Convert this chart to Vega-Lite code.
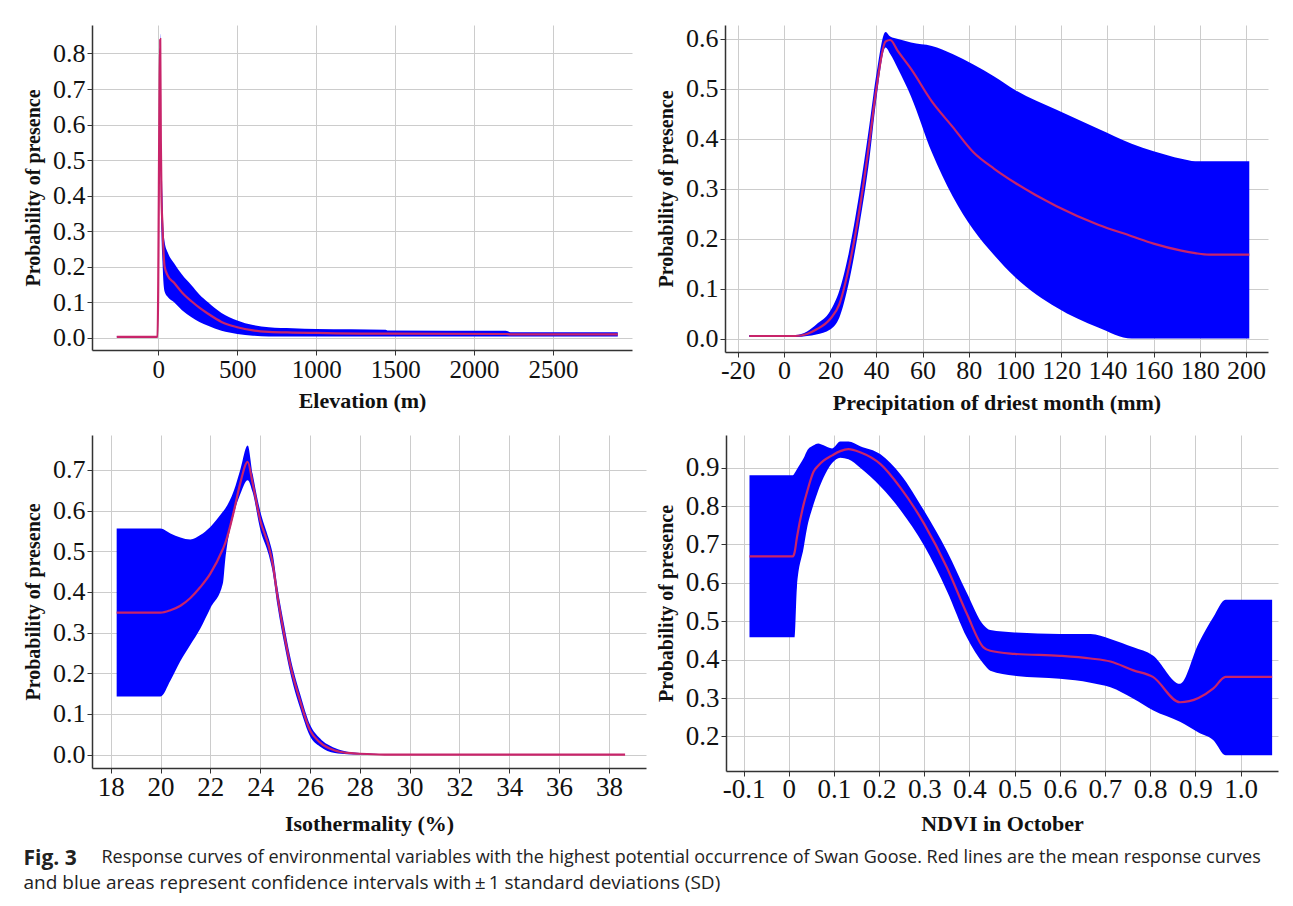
{
  "$schema": "https://vega.github.io/schema/vega-lite/v6.json",
  "padding": {"left": 23, "top": 25, "right": 10, "bottom": 5},
  "background": "white",
  "config": {
    "font": "Liberation Serif",
    "view": {"stroke": null},
    "axis": {
      "grid": true, "gridColor": "#cccccc", "gridWidth": 1,
      "domainColor": "#333333", "domainWidth": 1.5,
      "tickColor": "#333333", "tickSize": 5, "tickWidth": 1,
      "labelFont": "Liberation Serif", "labelColor": "#111111",
      "titleFont": "Liberation Serif", "titleFontWeight": "bold", "titleColor": "#111111",
      "labelOverlap": false, "labelFlush": false, "labelBound": false
    },
    "axisY": {"titleFontSize": 20, "labelPadding": 2, "titlePadding": 9},
    "axisX": {"titleFontSize": 22}
  },
  "title": {
    "text": "Fig. 3",
    "subtitle": "and blue areas represent confidence intervals with\u2009\u00b1\u20091 standard deviations (SD)",
    "orient": "bottom", "anchor": "start",
    "font": "Open Sans", "fontSize": 21, "fontWeight": "bold", "color": "#222222",
    "subtitleFont": "Open Sans", "subtitleFontSize": 19, "subtitleColor": "#222222",
    "subtitlePadding": 5, "offset": 0, "dy": -19
  },
  "spacing": 22,
  "vconcat": [
    {
      "hconcat": [
        {
          "width": 540, "height": 325,
          "data": {"values": [
            {"x": -263, "lo": 0.002, "m": 0.003, "hi": 0.005},
            {"x": -5, "lo": 0.002, "m": 0.003, "hi": 0.005},
            {"x": 12, "lo": 0.82, "m": 0.84, "hi": 0.856},
            {"x": 16, "lo": 0.45, "m": 0.55, "hi": 0.6},
            {"x": 20, "lo": 0.3, "m": 0.4, "hi": 0.52},
            {"x": 26, "lo": 0.22, "m": 0.32, "hi": 0.4},
            {"x": 32, "lo": 0.16, "m": 0.25, "hi": 0.31},
            {"x": 40, "lo": 0.13, "m": 0.2, "hi": 0.27},
            {"x": 60, "lo": 0.115, "m": 0.175, "hi": 0.24},
            {"x": 100, "lo": 0.1, "m": 0.155, "hi": 0.21},
            {"x": 150, "lo": 0.078, "m": 0.128, "hi": 0.178},
            {"x": 210, "lo": 0.058, "m": 0.103, "hi": 0.148},
            {"x": 260, "lo": 0.045, "m": 0.085, "hi": 0.122},
            {"x": 315, "lo": 0.034, "m": 0.068, "hi": 0.1},
            {"x": 400, "lo": 0.02, "m": 0.045, "hi": 0.07},
            {"x": 500, "lo": 0.011, "m": 0.03, "hi": 0.049},
            {"x": 600, "lo": 0.006, "m": 0.021, "hi": 0.036},
            {"x": 700, "lo": 0.004, "m": 0.017, "hi": 0.03},
            {"x": 850, "lo": 0.004, "m": 0.015, "hi": 0.027},
            {"x": 1000, "lo": 0.004, "m": 0.014, "hi": 0.025},
            {"x": 1440, "lo": 0.004, "m": 0.012, "hi": 0.023},
            {"x": 1450, "lo": 0.004, "m": 0.012, "hi": 0.021},
            {"x": 2200, "lo": 0.004, "m": 0.011, "hi": 0.02},
            {"x": 2230, "lo": 0.004, "m": 0.01, "hi": 0.016},
            {"x": 2910, "lo": 0.004, "m": 0.01, "hi": 0.016}
          ]},
          "encoding": {
            "x": {"field": "x", "type": "quantitative",
              "scale": {"domain": [-420, 3000], "nice": false, "zero": false},
              "axis": {"title": "Elevation (m)", "values": [0, 500, 1000, 1500, 2000, 2500], "format": "d",
                "labelFontSize": 25, "labelPadding": 2, "titlePadding": 8}}
          },
          "layer": [
            {"mark": {"type": "area", "color": "#0000ff", "interpolate": "monotone"},
             "encoding": {
               "y": {"field": "lo", "type": "quantitative",
                 "scale": {"domain": [-0.034, 0.88], "nice": false, "zero": false},
                 "axis": {"title": "Probability of presence", "values": [0, 0.1, 0.2, 0.3, 0.4, 0.5, 0.6, 0.7, 0.8], "format": ".1f", "labelFontSize": 26}},
               "y2": {"field": "hi"}}},
            {"mark": {"type": "line", "color": "#c8246a", "strokeWidth": 2.2, "interpolate": "monotone"},
             "encoding": {
               "y": {"field": "m", "type": "quantitative",
                 "scale": {"domain": [-0.034, 0.88], "nice": false, "zero": false},
                 "axis": {"title": "Probability of presence", "values": [0, 0.1, 0.2, 0.3, 0.4, 0.5, 0.6, 0.7, 0.8], "format": ".1f", "labelFontSize": 26}}}}
          ]
        },
        {
          "width": 543, "height": 327,
          "data": {"values": [
            {"x": -15, "lo": 0.003, "m": 0.005, "hi": 0.007},
            {"x": 5, "lo": 0.003, "m": 0.005, "hi": 0.007},
            {"x": 10, "lo": 0.005, "m": 0.009, "hi": 0.014},
            {"x": 14, "lo": 0.008, "m": 0.018, "hi": 0.028},
            {"x": 20, "lo": 0.018, "m": 0.039, "hi": 0.055},
            {"x": 24, "lo": 0.042, "m": 0.069, "hi": 0.096},
            {"x": 28, "lo": 0.11, "m": 0.14, "hi": 0.17},
            {"x": 32.6, "lo": 0.225, "m": 0.255, "hi": 0.29},
            {"x": 37, "lo": 0.36, "m": 0.394, "hi": 0.428},
            {"x": 40, "lo": 0.48, "m": 0.5, "hi": 0.529},
            {"x": 44, "lo": 0.583, "m": 0.595, "hi": 0.614},
            {"x": 46, "lo": 0.57, "m": 0.598, "hi": 0.605},
            {"x": 49.4, "lo": 0.54, "m": 0.575, "hi": 0.6},
            {"x": 55, "lo": 0.485, "m": 0.54, "hi": 0.593},
            {"x": 64, "lo": 0.373, "m": 0.475, "hi": 0.586},
            {"x": 73, "lo": 0.285, "m": 0.424, "hi": 0.57},
            {"x": 82, "lo": 0.218, "m": 0.373, "hi": 0.549},
            {"x": 91, "lo": 0.167, "m": 0.34, "hi": 0.525},
            {"x": 100, "lo": 0.123, "m": 0.312, "hi": 0.498},
            {"x": 118, "lo": 0.062, "m": 0.265, "hi": 0.458},
            {"x": 136, "lo": 0.022, "m": 0.228, "hi": 0.42},
            {"x": 150.5, "lo": 0.0, "m": 0.205, "hi": 0.39},
            {"x": 160, "lo": 0.0, "m": 0.19, "hi": 0.375},
            {"x": 172, "lo": 0.0, "m": 0.176, "hi": 0.36},
            {"x": 178, "lo": 0.0, "m": 0.171, "hi": 0.355},
            {"x": 184, "lo": 0.0, "m": 0.168, "hi": 0.355},
            {"x": 201.4, "lo": 0.0, "m": 0.168, "hi": 0.355}
          ]},
          "encoding": {
            "x": {"field": "x", "type": "quantitative",
              "scale": {"domain": [-25.5, 209.5], "nice": false, "zero": false},
              "axis": {"title": "Precipitation of driest month (mm)",
                "values": [-20, 0, 20, 40, 60, 80, 100, 120, 140, 160, 180, 200],
                "labelExpr": "datum.value < 0 ? '-' + (-datum.value) : '' + datum.value",
                "labelFontSize": 26, "labelPadding": 0, "titlePadding": 9}}
          },
          "layer": [
            {"mark": {"type": "area", "color": "#0000ff", "interpolate": "monotone"},
             "encoding": {
               "y": {"field": "lo", "type": "quantitative",
                 "scale": {"domain": [-0.027, 0.628], "nice": false, "zero": false},
                 "axis": {"title": "Probability of presence", "values": [0, 0.1, 0.2, 0.3, 0.4, 0.5, 0.6], "format": ".1f", "labelFontSize": 26}},
               "y2": {"field": "hi"}}},
            {"mark": {"type": "line", "color": "#c8246a", "strokeWidth": 2.2, "interpolate": "monotone"},
             "encoding": {
               "y": {"field": "m", "type": "quantitative",
                 "scale": {"domain": [-0.027, 0.628], "nice": false, "zero": false},
                 "axis": {"title": "Probability of presence", "values": [0, 0.1, 0.2, 0.3, 0.4, 0.5, 0.6], "format": ".1f", "labelFontSize": 26}}}}
          ]
        }
      ],
      "bounds": "flush",
      "spacing": 93
    },
    {
      "title": {
        "text": "Response curves of environmental variables with the highest potential occurrence of Swan Goose. Red lines are the mean response curves",
        "orient": "bottom", "anchor": "start", "dx": 78, "offset": 15,
        "font": "Open Sans", "fontSize": 18, "fontWeight": "normal", "color": "#222222"
      },
      "hconcat": [
        {
          "width": 554, "height": 333,
          "data": {"values": [
            {"x": 18.24, "lo": 0.143, "m": 0.349, "hi": 0.556},
            {"x": 20.0, "lo": 0.143, "m": 0.349, "hi": 0.556},
            {"x": 20.4, "lo": 0.182, "m": 0.355, "hi": 0.544},
            {"x": 20.8, "lo": 0.23, "m": 0.366, "hi": 0.534},
            {"x": 21.2, "lo": 0.27, "m": 0.385, "hi": 0.529},
            {"x": 21.6, "lo": 0.31, "m": 0.412, "hi": 0.54},
            {"x": 22.0, "lo": 0.36, "m": 0.445, "hi": 0.56},
            {"x": 22.5, "lo": 0.42, "m": 0.505, "hi": 0.597},
            {"x": 22.6, "lo": 0.48, "m": 0.52, "hi": 0.605},
            {"x": 22.95, "lo": 0.593, "m": 0.6, "hi": 0.65},
            {"x": 23.2, "lo": 0.64, "m": 0.667, "hi": 0.7},
            {"x": 23.5, "lo": 0.675, "m": 0.72, "hi": 0.76},
            {"x": 23.7, "lo": 0.645, "m": 0.667, "hi": 0.69},
            {"x": 24.0, "lo": 0.555, "m": 0.577, "hi": 0.6},
            {"x": 24.35, "lo": 0.49, "m": 0.511, "hi": 0.53},
            {"x": 24.5, "lo": 0.45, "m": 0.47, "hi": 0.495},
            {"x": 24.7, "lo": 0.365, "m": 0.388, "hi": 0.41},
            {"x": 24.96, "lo": 0.275, "m": 0.297, "hi": 0.32},
            {"x": 25.2, "lo": 0.203, "m": 0.223, "hi": 0.243},
            {"x": 25.6, "lo": 0.115, "m": 0.133, "hi": 0.15},
            {"x": 26.0, "lo": 0.046, "m": 0.06, "hi": 0.074},
            {"x": 26.4, "lo": 0.02, "m": 0.03, "hi": 0.04},
            {"x": 27.0, "lo": 0.004, "m": 0.01, "hi": 0.016},
            {"x": 27.5, "lo": 0.001, "m": 0.004, "hi": 0.007},
            {"x": 28.0, "lo": 0.0, "m": 0.002, "hi": 0.004},
            {"x": 29.0, "lo": 0.0, "m": 0.0, "hi": 0.001},
            {"x": 38.65, "lo": 0.0, "m": 0.0, "hi": 0.001}
          ]},
          "encoding": {
            "x": {"field": "x", "type": "quantitative",
              "scale": {"domain": [17.25, 39.49], "nice": false, "zero": false},
              "axis": {"title": "Isothermality (%)", "values": [18, 20, 22, 24, 26, 28, 30, 32, 34, 36, 38],
                "labelFontSize": 27, "labelPadding": 1, "titlePadding": 13}}
          },
          "layer": [
            {"mark": {"type": "area", "color": "#0000ff", "interpolate": "monotone"},
             "encoding": {
               "y": {"field": "lo", "type": "quantitative",
                 "scale": {"domain": [-0.033, 0.786], "nice": false, "zero": false},
                 "axis": {"title": "Probability of presence", "values": [0, 0.1, 0.2, 0.3, 0.4, 0.5, 0.6, 0.7], "format": ".1f", "labelFontSize": 26}},
               "y2": {"field": "hi"}}},
            {"mark": {"type": "line", "color": "#c8246a", "strokeWidth": 2.2, "interpolate": "monotone"},
             "encoding": {
               "y": {"field": "m", "type": "quantitative",
                 "scale": {"domain": [-0.033, 0.786], "nice": false, "zero": false},
                 "axis": {"title": "Probability of presence", "values": [0, 0.1, 0.2, 0.3, 0.4, 0.5, 0.6, 0.7], "format": ".1f", "labelFontSize": 26}}}}
          ]
        },
        {
          "width": 552, "height": 336,
          "data": {"values": [
            {"x": -0.087, "lo": 0.458, "m": 0.669, "hi": 0.88},
            {"x": 0.009, "lo": 0.458, "m": 0.669, "hi": 0.88},
            {"x": 0.013, "lo": 0.458, "m": 0.68, "hi": 0.886},
            {"x": 0.018, "lo": 0.588, "m": 0.718, "hi": 0.896},
            {"x": 0.033, "lo": 0.692, "m": 0.805, "hi": 0.925},
            {"x": 0.04, "lo": 0.74, "m": 0.835, "hi": 0.943},
            {"x": 0.055, "lo": 0.805, "m": 0.89, "hi": 0.958},
            {"x": 0.065, "lo": 0.84, "m": 0.905, "hi": 0.963},
            {"x": 0.077, "lo": 0.874, "m": 0.918, "hi": 0.958},
            {"x": 0.096, "lo": 0.912, "m": 0.932, "hi": 0.95},
            {"x": 0.114, "lo": 0.926, "m": 0.943, "hi": 0.968},
            {"x": 0.132, "lo": 0.922, "m": 0.948, "hi": 0.968},
            {"x": 0.158, "lo": 0.9, "m": 0.94, "hi": 0.956},
            {"x": 0.203, "lo": 0.851, "m": 0.909, "hi": 0.935},
            {"x": 0.247, "lo": 0.79, "m": 0.848, "hi": 0.883},
            {"x": 0.3, "lo": 0.696, "m": 0.753, "hi": 0.787},
            {"x": 0.35, "lo": 0.579, "m": 0.64, "hi": 0.683},
            {"x": 0.394, "lo": 0.458, "m": 0.52, "hi": 0.574},
            {"x": 0.431, "lo": 0.389, "m": 0.432, "hi": 0.49},
            {"x": 0.446, "lo": 0.371, "m": 0.423, "hi": 0.477},
            {"x": 0.5, "lo": 0.358, "m": 0.415, "hi": 0.471},
            {"x": 0.6, "lo": 0.35, "m": 0.41, "hi": 0.467},
            {"x": 0.668, "lo": 0.34, "m": 0.403, "hi": 0.467},
            {"x": 0.712, "lo": 0.328, "m": 0.395, "hi": 0.454},
            {"x": 0.763, "lo": 0.298, "m": 0.372, "hi": 0.432},
            {"x": 0.806, "lo": 0.268, "m": 0.355, "hi": 0.411},
            {"x": 0.866, "lo": 0.238, "m": 0.289, "hi": 0.337},
            {"x": 0.907, "lo": 0.21, "m": 0.3, "hi": 0.442},
            {"x": 0.94, "lo": 0.19, "m": 0.325, "hi": 0.511},
            {"x": 0.967, "lo": 0.151, "m": 0.355, "hi": 0.556},
            {"x": 1.07, "lo": 0.151, "m": 0.355, "hi": 0.556}
          ]},
          "encoding": {
            "x": {"field": "x", "type": "quantitative",
              "scale": {"domain": [-0.139, 1.083], "nice": false, "zero": false},
              "axis": {"title": "NDVI in October", "values": [-0.1, 0, 0.1, 0.2, 0.3, 0.4, 0.5, 0.6, 0.7, 0.8, 0.9, 1.0],
                "labelExpr": "datum.value == 0 ? '0' : (datum.value < 0 ? '-' + format(-datum.value, '.1f') : format(datum.value, '.1f'))",
                "labelFontSize": 27, "labelPadding": 0, "titlePadding": 11}}
          },
          "layer": [
            {"mark": {"type": "area", "color": "#0000ff", "interpolate": "monotone"},
             "encoding": {
               "y": {"field": "lo", "type": "quantitative",
                 "scale": {"domain": [0.11, 0.985], "nice": false, "zero": false},
                 "axis": {"title": "Probability of presence", "values": [0.2, 0.3, 0.4, 0.5, 0.6, 0.7, 0.8, 0.9], "format": ".1f", "labelFontSize": 27}},
               "y2": {"field": "hi"}}},
            {"mark": {"type": "line", "color": "#c8246a", "strokeWidth": 2.2, "interpolate": "monotone"},
             "encoding": {
               "y": {"field": "m", "type": "quantitative",
                 "scale": {"domain": [0.11, 0.985], "nice": false, "zero": false},
                 "axis": {"title": "Probability of presence", "values": [0.2, 0.3, 0.4, 0.5, 0.6, 0.7, 0.8, 0.9], "format": ".1f", "labelFontSize": 27}}}}
          ]
        }
      ],
      "bounds": "flush",
      "spacing": 80
    }
  ]
}
